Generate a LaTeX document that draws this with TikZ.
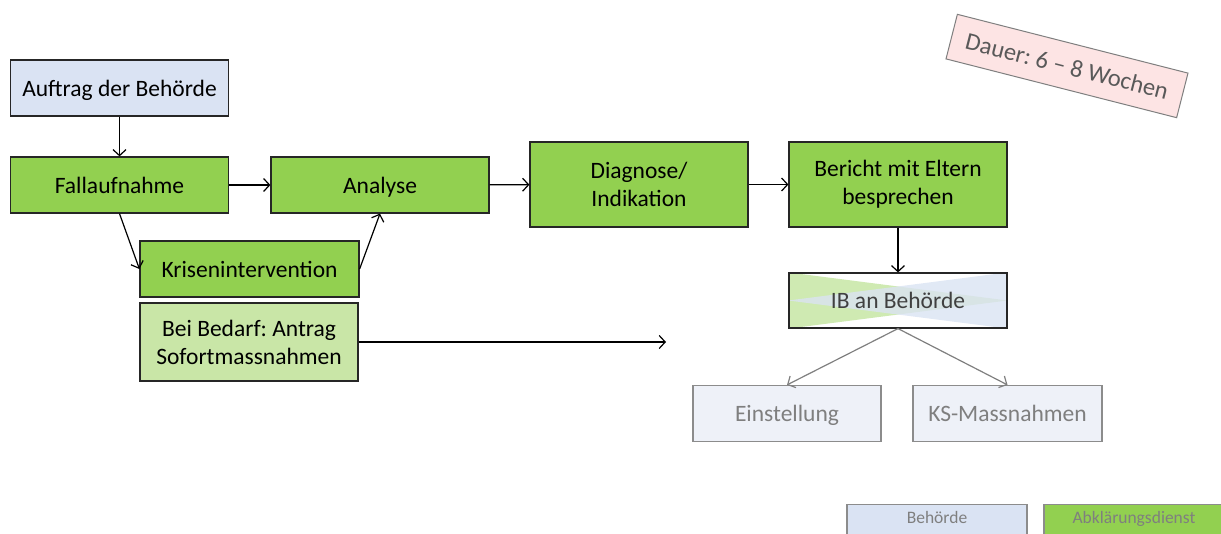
\documentclass[tikz,border=0pt]{standalone}
\usepackage{fontspec}
\setmainfont{Carlito}
\definecolor{amtblue}{RGB}{218, 227, 243}
\definecolor{palegray}{RGB}{238, 241, 248}
\definecolor{dienstgreen}{RGB}{146, 208, 80}
\definecolor{lightgreen}{RGB}{201, 230, 167}
\definecolor{notepink}{RGB}{253, 228, 228}
\definecolor{textgray}{RGB}{127, 127, 127}
\usepackage{tikz}
\usetikzlibrary{arrows.meta, positioning, calc, backgrounds}
\tikzset{
    flowbox/.style={draw=black!85, rectangle, line width=1.2pt, minimum width=218pt, minimum height=56pt, font=\fontsize{23.5}{28}\selectfont, align=center, inner sep=2pt, text height=21pt, text depth=5pt},
    twolines/.style={text height=, text depth=},
    amtbox/.style={flowbox, fill=amtblue},
    dienstbox/.style={flowbox, fill=dienstgreen},
    optionbox/.style={flowbox, draw=textgray!90, fill=palegray, text=textgray, minimum width=188pt},
    legendbox/.style={draw=textgray!90, line width=1.2pt, minimum width=180pt, minimum height=40pt, text=textgray, font=\fontsize{17.5}{20}\selectfont, anchor=north, text depth=14pt},
    notebox/.style={draw=textgray, fill=notepink, line width=1pt, minimum width=238pt, minimum height=46pt, text=black!65, font=\fontsize{24.5}{28}\selectfont},
    flowarrow/.style={-{Straight Barb[length=6pt, width=13pt]}, line width=1.2pt, draw=black},
    optionarrow/.style={flowarrow, draw=textgray},
}

\begin{document}
\frenchspacing
\begin{tikzpicture}[x=1pt, y=-1pt]
    \useasboundingbox (0, 0) rectangle (1221, 533);

    % Auftrag
    \node[amtbox] (auftrag) at (119.5, 88) {Auftrag der Behörde};

    % main line
    \node[dienstbox] (fall) at (119.5, 185) {Fallaufnahme};
    \node[dienstbox] (analyse) at (380, 185) {Analyse};
    \node[dienstbox, twolines, minimum height=85pt] (diagnose) at (639, 184.5) {Diagnose/\\Indikation};
    \node[dienstbox, twolines, minimum height=85pt] (bericht) at (898, 184.5) {Bericht mit Eltern\\besprechen};

    % Krise
    \node[dienstbox, minimum width=219pt] (krise) at (249.5, 269) {Krisenintervention};
    \node[flowbox, twolines, fill=lightgreen, minimum height=78pt] (antrag) at (249, 342) {Bei Bedarf: Antrag\\Sofortmassnahmen};
    \coordinate (antragend) at (666, 342);

    % IB
    \node[flowbox, minimum height=55pt, text=black!75] (ib) at (898, 300.5) {IB an Behörde};
    \begin{scope}[on background layer]
        \fill[dienstgreen!55, opacity=0.8] (ib.north west) -- (ib.east) -- (ib.south west) -- cycle;
        \fill[amtblue, opacity=0.8] (ib.north east) -- (ib.west) -- (ib.south east) -- cycle;
    \end{scope}

    % Optionen
    \node[optionbox] (einstellung) at (787, 413.5) {Einstellung};
    \node[optionbox, minimum width=189pt] (ks) at (1007.5, 413.5) {KS-Massnahmen};

    % Dauer
    \node[notebox, rotate=-14.3] (dauer) at (1067, 66) {Dauer: 6 -- 8 Wochen};

    % Legende
    \node[legendbox, fill=amtblue] (legbehoerde) at (937, 504) {Behörde};
    \node[legendbox, fill=dienstgreen] (legdienst) at (1134, 504) {Abklärungsdienst};

    % Arrows
    \draw[flowarrow] (auftrag) -- (fall);
    \draw[flowarrow] (fall) -- (analyse);
    \draw[flowarrow] (analyse) -- (diagnose);
    \draw[flowarrow] (diagnose) -- (bericht);
    \draw[flowarrow] (bericht) -- (ib);
    \draw[flowarrow] (fall.south) -- (krise.west);
    \draw[flowarrow] (krise.east) -- (analyse.south);
    \draw[flowarrow] (antrag) -- (antragend);
    \draw[optionarrow] (ib.south) -- (einstellung.north);
    \draw[optionarrow] (ib.south) -- (ks.north);
\end{tikzpicture}
\end{document}
